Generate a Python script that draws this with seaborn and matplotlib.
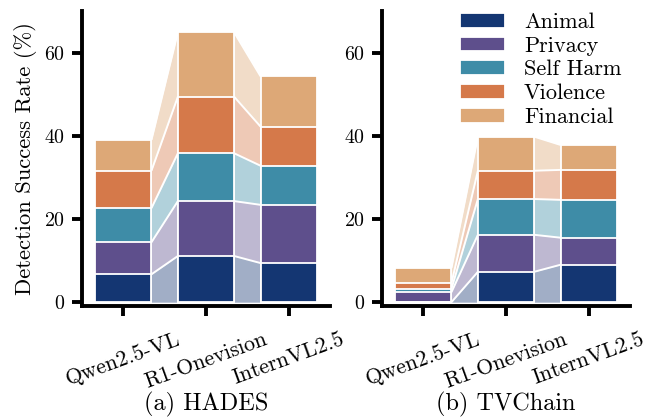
import numpy as np
import pandas as pd
import matplotlib
matplotlib.use("Agg")
import matplotlib.pyplot as plt
import seaborn as sns

# ---------------- data ----------------
models = ["Qwen2.5-VL", "R1-Onevision", "InternVL2.5"]
categories = ["Animal", "Privacy", "Self Harm", "Violence", "Financial"]
colors = ["#143672", "#5e4f8c", "#3e8ca7", "#d5794a", "#dda877"]

# HADES (per-category segment heights, per model)
hades_animal = [6.7, 11.1, 9.4]
hades_privacy = [7.7, 13.2, 14.0]
hades_selfharm = [8.2, 11.5, 9.4]
hades_violence = [9.0, 13.6, 9.4]
hades_financial = [7.4, 15.5, 12.1]

# TVChain
tv_animal = [0.0, 7.3, 9.0]
tv_privacy = [2.4, 8.9, 6.5]
tv_selfharm = [0.8, 8.6, 9.1]
tv_violence = [1.4, 6.8, 7.2]
tv_financial = [3.6, 8.2, 6.0]

panels = [
    ("(a) HADES", [hades_animal, hades_privacy, hades_selfharm, hades_violence, hades_financial]),
    ("(b) TVChain", [tv_animal, tv_privacy, tv_selfharm, tv_violence, tv_financial]),
]

# ---------------- style ----------------
sns.set_style("ticks")
plt.rcParams["font.family"] = ["cmr10", "DejaVu Serif"]
plt.rcParams["mathtext.fontset"] = "cm"
plt.rcParams["axes.formatter.use_mathtext"] = True
plt.rcParams["axes.unicode_minus"] = False
plt.rcParams["axes.edgecolor"] = "black"
plt.rcParams["xtick.color"] = "black"
plt.rcParams["ytick.color"] = "black"
plt.rcParams["text.color"] = "black"
plt.rcParams["axes.labelcolor"] = "black"

W, H = 658, 420
fig = plt.figure(figsize=(W / 100, H / 100), dpi=100)

bar_w = 0.68
axes_px = [(82, 248), (382, 248)]
bottom_px = 305.5
top_px = 11.0

for idx, (title, segs) in enumerate(panels):
    left, width = axes_px[idx]
    ax = fig.add_axes([left / W, (H - bottom_px) / H, width / W, (bottom_px - top_px) / H])
    segs = np.array(segs)
    cum = np.cumsum(segs, axis=0)  # cum[k] = top of layer k
    df = pd.DataFrame({"model": models})
    for k in range(len(categories)):
        df[f"cum{k}"] = cum[k]

    # draw stacked bars: from top layer down so lower layers overwrite
    for k in reversed(range(len(categories))):
        sns.barplot(data=df, x="model", y=f"cum{k}", color=colors[k], width=bar_w,
                    saturation=1, edgecolor="white", linewidth=1.3, errorbar=None,
                    ax=ax, label=categories[k] if idx == 1 else None, zorder=3)

    # connectors between bars
    for i in range(len(models) - 1):
        xr = i + bar_w / 2
        xl = i + 1 - bar_w / 2
        for k in range(len(categories)):
            b0 = cum[k - 1][i] if k > 0 else 0.0
            b1 = cum[k - 1][i + 1] if k > 0 else 0.0
            t0, t1 = cum[k][i], cum[k][i + 1]
            ax.fill_between([xr, xl], [b0, b1], [t0, t1], color=colors[k],
                            alpha=0.4, linewidth=0, zorder=2)
            ax.plot([xr, xl], [t0, t1], color="white", lw=1.4, zorder=2.5,
                    solid_capstyle="butt")

    ax.set_xlim(-0.5, 2.5)
    ax.set_ylim(-0.8, 70)
    ax.set_yticks([0, 20, 40, 60])
    ax.set_xlabel("")
    ax.set_ylabel("")
    sns.despine(ax=ax)
    for sp in ["left", "bottom"]:
        ax.spines[sp].set_linewidth(2.8)
        ax.spines[sp].set_color("black")
    ax.tick_params(axis="both", width=2.8, length=7, color="black", labelcolor="black")
    ax.tick_params(axis="y", labelsize=14.4, pad=5)
    ax.tick_params(axis="x", labelsize=15.8, pad=10)
    ax.set_xticks(range(len(models)))
    ax.set_xticklabels(models, rotation=20, ha="center")

    cx = (left + width / 2) / W
    fig.text(cx, 1 - 410 / H, title, ha="center", va="baseline", fontsize=17.5)

    if idx == 0:
        ax.set_ylabel("Detection Success Rate (%)", fontsize=16.3, labelpad=5)
    else:
        handles, labels = ax.get_legend_handles_labels()
        order = [labels.index(c) for c in categories]
        ax.legend([handles[j] for j in order], [labels[j] for j in order],
                  loc="upper right", bbox_to_anchor=(0.965, 0.995),
                  frameon=False, fontsize=16, handlelength=2.0,
                  handleheight=0.65, handletextpad=0.85, labelspacing=0.19,
                  borderaxespad=0.0, borderpad=0.0)

fig.savefig("out.png", dpi=100)
